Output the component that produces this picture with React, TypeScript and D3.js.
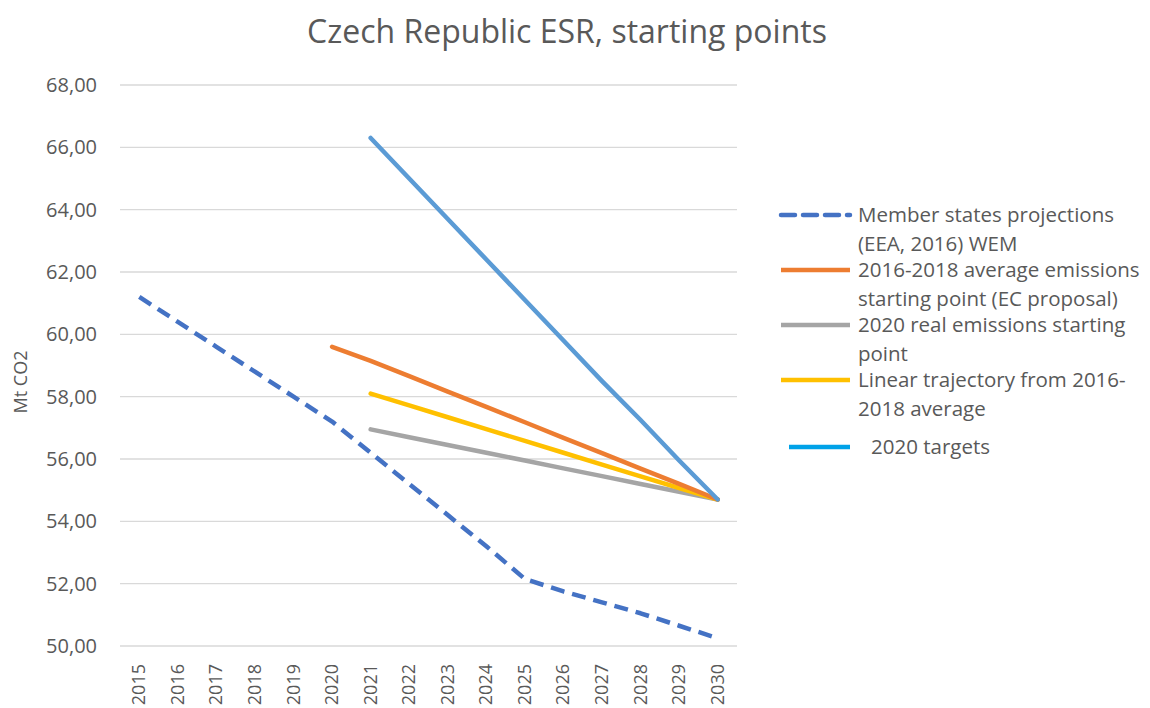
import React from "react";
import * as d3 from "d3";

const years = ["2015","2016","2017","2018","2019","2020","2021","2022","2023","2024","2025","2026","2027","2028","2029","2030"];
const yTicks = [50, 52, 54, 56, 58, 60, 62, 64, 66, 68];

const projections: (number | null)[] = [61.2, 60.4, 59.6, 58.8, 58.0, 57.2, 56.2, 55.2, 54.2, 53.2, 52.15, 51.75, 51.4, 51.05, 50.65, 50.25];
const avgStart: (number | null)[] = [null, null, null, null, null, 59.6, 59.15, 58.66, 58.16, 57.67, 57.18, 56.68, 56.19, 55.69, 55.2, 54.7];
const realStart: (number | null)[] = [null, null, null, null, null, null, 56.95, 56.7, 56.45, 56.2, 55.95, 55.7, 55.45, 55.2, 54.95, 54.7];
const linearTraj: (number | null)[] = [null, null, null, null, null, null, 58.1, 57.72, 57.34, 56.96, 56.58, 56.2, 55.82, 55.44, 55.07, 54.7];
const targets: (number | null)[] = [null, null, null, null, null, null, 66.3, 65.0, 63.7, 62.4, 61.1, 59.8, 58.5, 57.25, 55.95, 54.7];

const legendItems = [
  { lines: ["Member states projections", "(EEA, 2016) WEM"], color: "#4472C4", dash: true },
  { lines: ["2016-2018 average emissions", "starting point (EC proposal)"], color: "#ED7D31", dash: false },
  { lines: ["2020 real emissions starting", "point"], color: "#A5A5A5", dash: false },
  { lines: ["Linear trajectory from 2016-", "2018 average"], color: "#FFC000", dash: false },
];

export default function App() {
  const W = 1150, H = 708;
  const left = 120, right = 737, top = 85, bottom = 646;
  const x = d3.scaleBand<string>().domain(years).range([left, right]);
  const y = d3.scaleLinear().domain([50, 68]).range([bottom, top]);
  const cx = (i: number) => (x(years[i]) as number) + x.bandwidth() / 2;
  const line = d3.line<number | null>()
    .defined((d) => d !== null)
    .x((_, i) => cx(i))
    .y((d) => y(d as number));
  const font = "'Open Sans', 'DejaVu Sans', sans-serif";
  const grey = "#595959";
  const series = [
    { data: projections, color: "#4472C4", dash: "14 8" },
    { data: realStart, color: "#A5A5A5", dash: undefined },
    { data: linearTraj, color: "#FFC000", dash: undefined },
    { data: avgStart, color: "#ED7D31", dash: undefined },
    { data: targets, color: "#5B9BD5", dash: undefined },
  ];
  return (
    <svg width={W} height={H} style={{ position: "absolute", left: 0, top: 0, background: "#fff" }} fontFamily={font}>
      <rect width={W} height={H} fill="#fff" />
      <text x={567} y={43} textAnchor="middle" fontSize={32} fill={grey}>Czech Republic ESR, starting points</text>
      {yTicks.map((t) => (
        <g key={t}>
          <line x1={left} x2={right} y1={y(t)} y2={y(t)} stroke="#D9D9D9" strokeWidth={1.3} />
          <text x={97} y={y(t)} dy="0.35em" textAnchor="end" fontSize={20} fill={grey}>
            {t.toFixed(2).replace(".", ",")}
          </text>
        </g>
      ))}
      <text transform={`translate(27,382) rotate(-90)`} textAnchor="middle" fontSize={18} fill={grey}>Mt CO2</text>
      {years.map((yr, i) => (
        <text key={yr} transform={`translate(${cx(i) + 6},${664}) rotate(-90)`} textAnchor="end" fontSize={18} fill={grey}>{yr}</text>
      ))}
      {series.map((s, k) => (
        <path key={k} d={line(s.data) || ""} fill="none" stroke={s.color} strokeWidth={4.5}
          strokeDasharray={s.dash} strokeLinejoin="round" strokeLinecap={s.dash ? "butt" : "round"} />
      ))}
      {legendItems.map((it, k) => {
        const ly = 215 + k * 55;
        return (
          <g key={k}>
            <line x1={781} x2={850} y1={ly} y2={ly} stroke={it.color} strokeWidth={4.5}
              strokeDasharray={it.dash ? "14 8" : undefined} strokeLinecap={it.dash ? "round" : "butt"} />
            {it.lines.map((l, j) => (
              <text key={j} x={858} y={ly + j * 29} dy="0.35em" fontSize={20.5} fill={grey}>{l}</text>
            ))}
          </g>
        );
      })}
      <line x1={789} x2={850} y1={447} y2={447} stroke="#00A2E8" strokeWidth={4.5} />
      <text x={871} y={447} dy="0.35em" fontSize={20.5} fill={grey}>2020 targets</text>
    </svg>
  );
}
